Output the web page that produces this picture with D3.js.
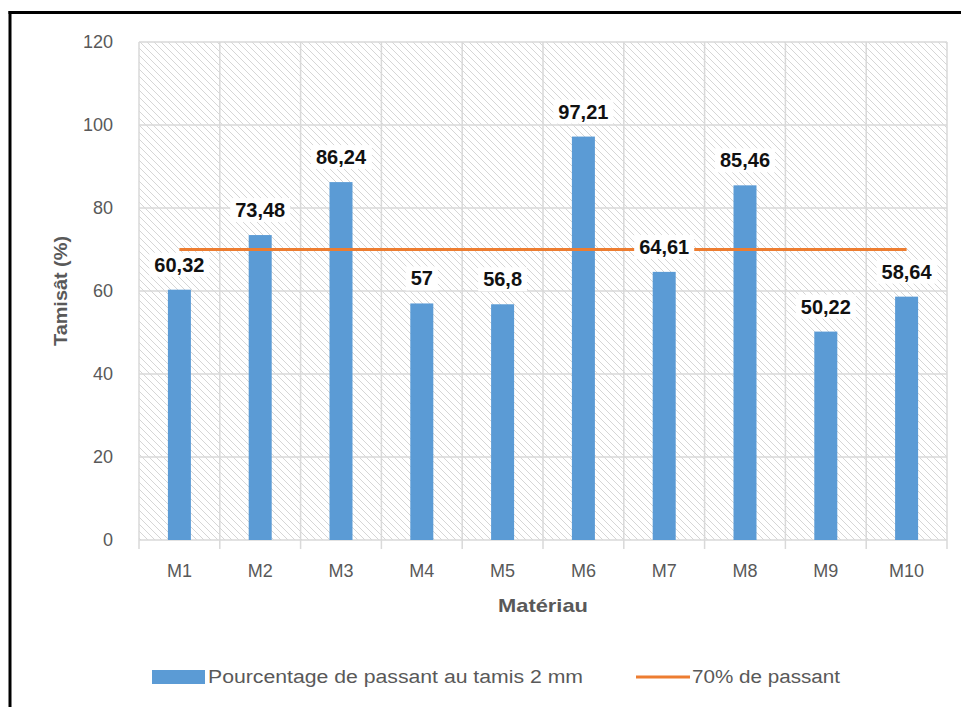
<!DOCTYPE html>
<html><head><meta charset="utf-8">
<script src="https://cdn.jsdelivr.net/npm/d3@7"></script>
<style>body{margin:0;background:#fff;} svg{display:block;}</style>
</head><body>
<svg id="c" width="961" height="707"></svg>
<script>
const categories = ["M1","M2","M3","M4","M5","M6","M7","M8","M9","M10"];
const values = [60.32,73.48,86.24,57,56.8,97.21,64.61,85.46,50.22,58.64];
const labels = ["60,32","73,48","86,24","57","56,8","97,21","64,61","85,46","50,22","58,64"];
const threshold = [70,70,70,70,70,70,70,70,70,70];
const yTicks = [0,20,40,60,80,100,120];
const seriesNames = ["Pourcentage de passant au tamis 2 mm","70% de passant"];
const axisTitles = {x:"Matériau", y:"Tamisât (%)"};

const svg = d3.select("#c");
const font = "'Liberation Sans', Arial, sans-serif";
const L=139, R=947, T=42, B=540;
const x = d3.scaleBand().domain(categories).range([L,R]).paddingInner(0).paddingOuter(0);
const y = d3.scaleLinear().domain([0,120]).range([B,T]);

// hatch pattern
const defs = svg.append("defs");
const pat = defs.append("pattern").attr("id","hatch").attr("patternUnits","userSpaceOnUse")
  .attr("width",7).attr("height",7);
pat.append("rect").attr("width",7).attr("height",7).attr("fill","#fff");
pat.append("path").attr("d","M-1,-1 L8,8 M-8,-1 L1,8 M6,-1 L15,8").attr("stroke","#d6d6d6").attr("stroke-width",1);

svg.append("rect").attr("x",L).attr("y",T).attr("width",R-L).attr("height",B-T).attr("fill","url(#hatch)");

// gridlines
const grid = svg.append("g").attr("stroke","#d9d9d9").attr("stroke-width",1.5);
grid.selectAll("line.h").data(yTicks).join("line").attr("class","h")
  .attr("x1",L).attr("x2",R).attr("y1",d=>y(d)).attr("y2",d=>y(d));
const bounds = categories.map(c=>x(c)).concat([R]);
grid.selectAll("line.v").data(bounds).join("line").attr("class","v")
  .attr("x1",d=>d).attr("x2",d=>d).attr("y1",T).attr("y2",B+9);

// y axis labels
const yAxis = d3.axisLeft(y).tickValues(yTicks).tickSize(0).tickPadding(26);
const ya = svg.append("g").attr("transform",`translate(${L},0)`).call(yAxis);
ya.select(".domain").remove();
ya.selectAll("text").attr("font-family",font).attr("font-size",18).attr("fill","#595959");

// x axis labels
const xAxis = d3.axisBottom(x).tickSize(0).tickPadding(24);
const xa = svg.append("g").attr("transform",`translate(0,${B})`).call(xAxis);
xa.select(".domain").remove();
xa.selectAll("text").attr("font-family",font).attr("font-size",18).attr("fill","#595959");

// bars
const bw = 23;
svg.append("g").selectAll("rect").data(values).join("rect")
  .attr("x",(d,i)=>x(categories[i])+x.bandwidth()/2-bw/2)
  .attr("y",d=>y(d)).attr("width",bw).attr("height",d=>B-y(d)).attr("fill","#5b9bd5");

// threshold line
const line = d3.line().x((d,i)=>x(categories[i])+x.bandwidth()/2).y(d=>y(d));
svg.append("path").datum(threshold).attr("d",line).attr("fill","none").attr("stroke","#ed7d31").attr("stroke-width",3);

// data labels
const lg = svg.append("g");
values.forEach((v,i)=>{
  const cx = x(categories[i])+x.bandwidth()/2;
  const cy = y(v)-25;
  const t = lg.append("text").attr("x",cx).attr("y",cy).attr("text-anchor","middle").attr("dominant-baseline","central")
    .attr("font-family",font).attr("font-weight","bold").attr("font-size",20).attr("fill","#111").text(labels[i]);
  const bb = t.node().getBBox();
  lg.insert("rect","text").attr("x",bb.x-5).attr("y",bb.y-1).attr("width",bb.width+10).attr("height",bb.height+2).attr("fill","#fff");
});
lg.selectAll("text").raise();

// axis titles
svg.append("text").attr("x",(L+R)/2).attr("y",612).attr("text-anchor","middle")
  .attr("font-family",font).attr("font-weight","bold").attr("font-size",19).attr("fill","#595959")
  .attr("textLength",90).attr("lengthAdjust","spacingAndGlyphs").text(axisTitles.x);
svg.append("text").attr("transform",`translate(67,${(T+B)/2}) rotate(-90)`).attr("text-anchor","middle")
  .attr("font-family",font).attr("font-weight","bold").attr("font-size",19).attr("fill","#595959")
  .attr("textLength",110).attr("lengthAdjust","spacingAndGlyphs").text(axisTitles.y);

// legend
const leg = svg.append("g");
leg.append("rect").attr("x",152).attr("y",670).attr("width",53).attr("height",14).attr("fill","#5b9bd5");
leg.append("text").attr("x",208).attr("y",677).attr("dominant-baseline","central").attr("font-family",font)
  .attr("font-size",18).attr("fill","#595959").attr("textLength",375).attr("lengthAdjust","spacingAndGlyphs").text(seriesNames[0]);
leg.append("line").attr("x1",636).attr("x2",690).attr("y1",677).attr("y2",677).attr("stroke","#ed7d31").attr("stroke-width",3);
leg.append("text").attr("x",692).attr("y",677).attr("dominant-baseline","central").attr("font-family",font)
  .attr("font-size",18).attr("fill","#595959").attr("textLength",148).attr("lengthAdjust","spacingAndGlyphs").text(seriesNames[1]);

// outer frame (top and left)
svg.append("line").attr("x1",8.5).attr("x2",961).attr("y1",12.5).attr("y2",12.5).attr("stroke","#000").attr("stroke-width",3);
svg.append("line").attr("x1",10).attr("x2",10).attr("y1",11).attr("y2",707).attr("stroke","#000").attr("stroke-width",3);
</script>
</body></html>
